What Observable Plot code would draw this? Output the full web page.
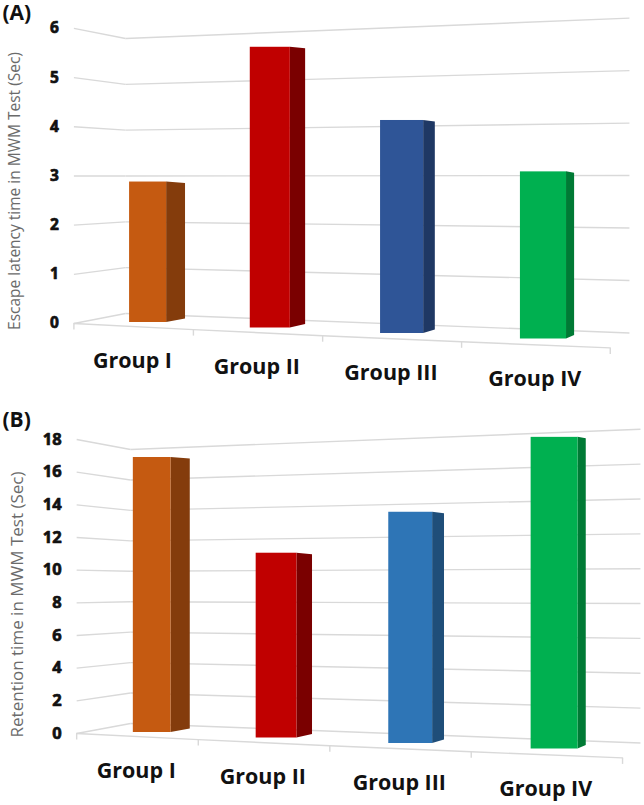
<!DOCTYPE html>
<html><head><meta charset="utf-8">
<script src="https://cdn.jsdelivr.net/npm/d3@7"></script>
<script src="https://cdn.jsdelivr.net/npm/@observablehq/plot@0.6"></script>
<style>
body{margin:0;background:#fff;font-family:"Open Sans",sans-serif;}
#wrap{width:644px;}
#wrap svg{display:block;}
</style></head><body><div id="wrap"></div>
<script>
// ---- data ----
const groups = ["Group I", "Group II", "Group III", "Group IV"];
const escapeLatency = [2.9, 5.6, 4.1, 3.1];      // panel A (Sec)
const retentionTime = [17.1, 11.1, 13.4, 17.4];  // panel B (Sec)
const ticksA = [0, 1, 2, 3, 4, 5, 6];
const ticksB = [0, 2, 4, 6, 8, 10, 12, 14, 16, 18];
const titleA = "Escape latency time in MWM Test (Sec)";
const titleB = "Retention time in MWM Test (Sec)";
const frontA = ["#C55A11", "#C00000", "#2F5597", "#00B050"];
const sideA  = ["#843C0C", "#7A0000", "#1F3864", "#007A35"];
const frontB = ["#C55A11", "#C00000", "#2E75B6", "#00B050"];
const sideB  = ["#843C0C", "#7A0000", "#1F4E79", "#007A35"];

function drawPanel(cfg) {
  const {values, ticks, front, side, label, title, titleSize, tickSize, lay} = cfg;
  const ymax = d3.max(ticks);
  const plotH = lay.height - lay.marginTop - lay.marginBottom;
  const s0 = plotH / ymax;                       // px per unit along back-left edge
  const U = p => p / s0;                         // pixel offset -> y units
  const {iL, iR} = lay;
  const gain = 0.145, drop = U(19.5);
  const tOf = u => (u - iL) / (iR - iL);
  const wallY = (v, t) => v * (1 + gain * t) - drop * t;   // back wall (perspective)
  const sideY = v => v * 1.073 - U(10);                    // front-left edge of side wall
  const frontU = k => -0.53 + 0.873 * k + 0.037 * k * k;   // front floor edge boundaries
  const frontY = k => -U(10 + 6.1 * k);
  const centerU = i => 0.035 + 0.894 * i + 0.0365 * i * i; // bar centres

  const bars = groups.map((g, i) => {
    const c = centerU(i);
    const w = 0.282 + 0.023 * i;
    const sw = 0.144 - 0.0275 * i;
    const base = -U(9 + 5.5 * i);
    const top = base + values[i] * 1.05 * (1 + gain * tOf(c));
    return {g, i, x1: c - w / 2, x2: c + w / 2, x3: c + w / 2 + sw, base, top, front: front[i], side: side[i]};
  });
  const sideFaces = bars.flatMap(b => [
    {g: b.g, x: b.x2, y1: b.base, y2: b.top, side: b.side},
    {g: b.g, x: b.x3, y1: b.base + U(3.5), y2: b.top - U(1.5), side: b.side}
  ]);
  const grid = ticks.map(v => ({v, xa: frontU(0), ya: sideY(v), xb: iL, yb: wallY(v, 0), xc: iR, yc: wallY(v, 1)}));
  const bounds = d3.range(groups.length + 1);
  const gridStroke = "#d9d9d9";

  return Plot.plot({
    width: lay.width, height: lay.height,
    marginTop: lay.marginTop, marginBottom: lay.marginBottom,
    marginLeft: lay.marginLeft, marginRight: lay.marginRight,
    x: {domain: [0, 3], axis: null},
    y: {domain: [0, ymax], axis: null},
    color: {type: "identity"},
    style: {fontFamily: "'Open Sans', sans-serif", background: "white", overflow: "visible"},
    marks: [
      Plot.link(grid, {x1: "xa", y1: "ya", x2: "xb", y2: "yb", stroke: gridStroke, strokeWidth: 1.4}),
      Plot.link(grid, {x1: "xb", y1: "yb", x2: "xc", y2: "yc", stroke: gridStroke, strokeWidth: 1.4}),
      Plot.line(bounds, {x: k => frontU(k), y: k => frontY(k), stroke: gridStroke, strokeWidth: 1.4}),
      Plot.link(bounds, {x1: k => frontU(k), x2: k => frontU(k), y1: k => frontY(k), y2: k => frontY(k) - U(6), stroke: gridStroke, strokeWidth: 1.4}),
      Plot.area(sideFaces, {x1: "x", y1: "y1", y2: "y2", z: "g", fill: "side"}),
      Plot.rect(bars, {x1: "x1", x2: "x2", y1: "base", y2: "top", fill: "front"}),
      Plot.text(groups, {x: (d, i) => frontU(i + 0.5), y: (d, i) => frontY(i + 0.5) - U(41), text: d => d,
        lineAnchor: "bottom", fontSize: 21.5, fontWeight: 700, fill: "#111"}),
      Plot.text(ticks, {x: () => frontU(0), y: v => sideY(v), text: v => String(v), textAnchor: "end",
        dx: -15, fontSize: tickSize, fontWeight: 700, fill: "#111", stroke: "#111", strokeWidth: 0.7}),
      Plot.text([title], {y: () => ymax / 2 - U(lay.titleDy), frameAnchor: "left", textAnchor: "middle", rotate: -90,
        dx: lay.titleX - lay.marginLeft, fontSize: titleSize, fill: "#6b6b6b"}),
      Plot.text([label], {frameAnchor: "top-left", textAnchor: "start", lineAnchor: "top",
        dx: 2 - lay.marginLeft, dy: lay.labelTop - lay.marginTop, fontSize: 21, fontWeight: 700, fill: "#111"})
    ]
  });
}

const wrap = document.getElementById("wrap");
wrap.append(drawPanel({
  values: escapeLatency, ticks: ticksA, front: frontA, side: sideA, label: "(A)", title: titleA,
  titleSize: 15.5, tickSize: 15.5,
  lay: {width: 644, height: 400, marginTop: 38, marginBottom: 87, marginLeft: 143, marginRight: 107,
        iL: -0.137, iR: 3.70, titleX: 14.5, titleDy: 15, labelTop: 5}
}));
wrap.append(drawPanel({
  values: retentionTime, ticks: ticksB, front: frontB, side: sideB, label: "(B)", title: titleB,
  titleSize: 17, tickSize: 16.5,
  lay: {width: 644, height: 405, marginTop: 49, marginBottom: 82, marginLeft: 147, marginRight: 96,
        iL: -0.127, iR: 3.688, titleX: 17.5, titleDy: 18, labelTop: 12}
}));
</script></body></html>
